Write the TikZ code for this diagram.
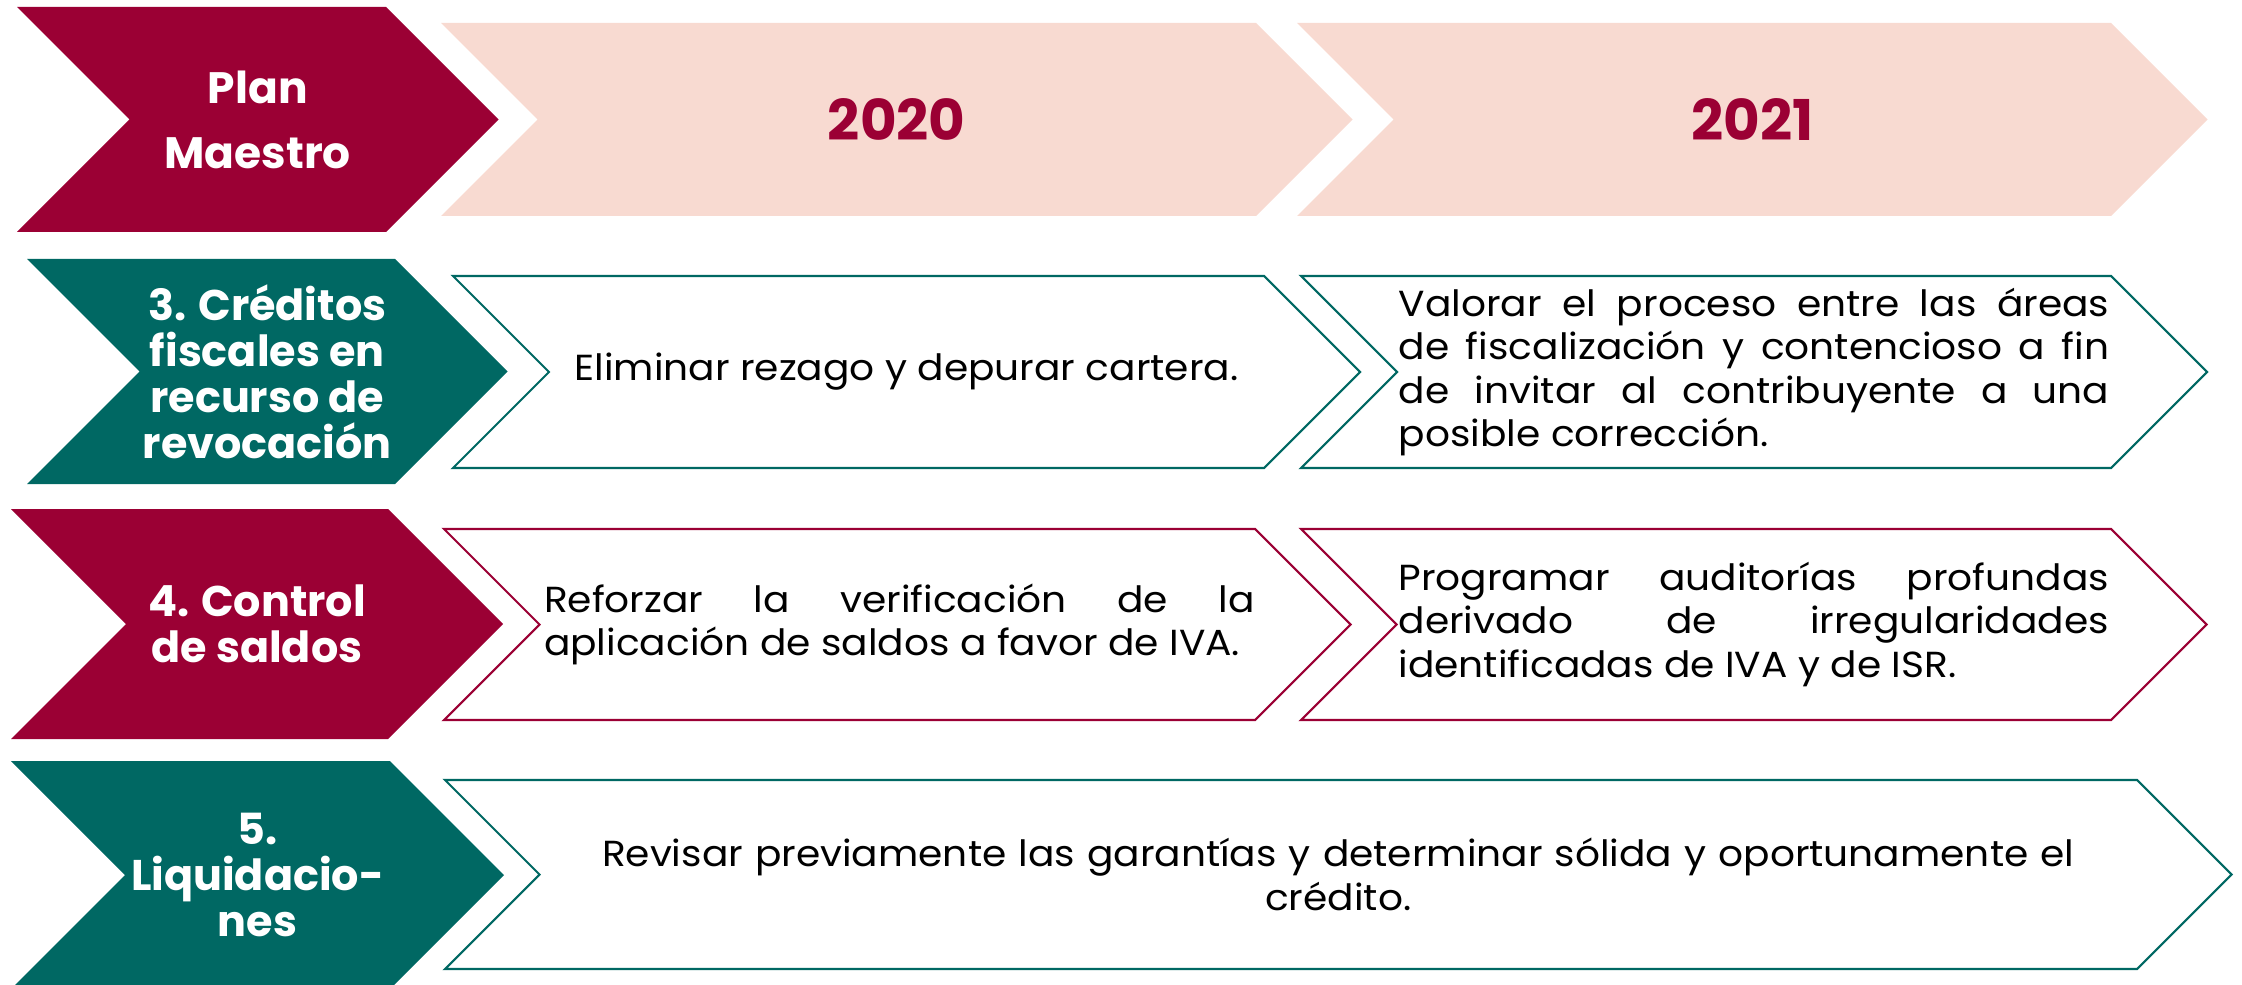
\documentclass[tikz,border=0pt]{standalone}
\usepackage{fontspec}
\setmainfont{Poppins}
\newfontfamily\bodyfont[FakeStretch=1.08]{Poppins}
\usetikzlibrary{positioning}

\definecolor{guinda}{RGB}{155,0,52}
\definecolor{verde}{RGB}{0,104,99}
\definecolor{rosa}{RGB}{248,218,209}

% chevron: #1 style, #2 name, #3 left x, #4 top right x, #5 top y, #6 bottom y
\newcommand{\chevpath}[6]{%
  \pgfmathsetmacro{\chd}{(#6-#5)/2}%
  \path[#1] (#3,#5) -- (#4,#5) -- ++(\chd,\chd) -- (#4,#6) -- (#3,#6) -- ++(\chd,-\chd) -- cycle;
  \coordinate (#2) at ({(#3+\chd+#4)/2},{(#5+#6)/2});
}

\tikzset{
  solid/.style={fill=#1},
  outl/.style={draw=#1, line width=0.6pt, fill=white},
  hdrtxt/.style={text=white, font=\bfseries\fontsize{12.2}{13.1}\selectfont, align=center, inner sep=0pt},
  yeartxt/.style={text=guinda, font=\bfseries\fontsize{16}{18}\selectfont, inner sep=0pt},
  bodytxt/.style={text=black, font=\bodyfont\fontsize{10.3}{12.4}\selectfont, align=justify, inner sep=0pt}
}

\begin{document}
\begin{tikzpicture}[x=0.01cm, y=-0.01cm]
\useasboundingbox (0,0) rectangle (2242,985);

% top row
\chevpath{solid=guinda}{plan}{17}{386}{7}{232}
\chevpath{solid=rosa}{y2020}{441}{1256}{23}{216}
\chevpath{solid=rosa}{y2021}{1297}{2111}{23}{216}
\node[hdrtxt, font=\bfseries\fontsize{12.5}{18.5}\selectfont] (plan-txt) at (plan) {Plan\\Maestro};
\node[yeartxt] (y2020-txt) at (y2020) {2020};
\node[yeartxt] (y2021-txt) at (y2021) {2021};

% 3. creditos
\chevpath{solid=verde}{cred}{27}{395}{259}{484}
\chevpath{outl=verde}{cred20}{453}{1264}{276}{468}
\chevpath{outl=verde}{cred21}{1301}{2111}{276}{468}
\node[hdrtxt] (cred-txt) at (cred) {3. Créditos\\fiscales en\\recurso de\\revocación};
\node[bodytxt, align=center] (cred20-txt) at (cred20) {Eliminar rezago y depurar cartera.};
\node[bodytxt, text width=7.1cm] (cred21-txt) at (cred21)
  {Valorar el proceso entre las áreas\linebreak de fiscalización y contencioso a fin\linebreak de invitar al contribuyente a una\linebreak posible corrección.};

% 4. control
\chevpath{solid=guinda}{ctrl}{11}{388}{509}{739}
\chevpath{outl=guinda}{ctrl20}{444}{1255}{529}{720}
\chevpath{outl=guinda}{ctrl21}{1301}{2111}{529}{720}
\node[hdrtxt] (ctrl-txt) at (ctrl) {4. Control\\de saldos};
\node[bodytxt, text width=7.1cm, xshift=0.02cm] (ctrl20-txt) at (ctrl20)
  {Reforzar la verificación de la\linebreak \mbox{aplicación de saldos a favor de IVA.}};
\node[bodytxt, text width=7.1cm] (ctrl21-txt) at (ctrl21)
  {Programar auditorías profundas\linebreak derivado de irregularidades\linebreak identificadas de IVA y de ISR.};

% 5. liquidaciones
\chevpath{solid=verde}{liq}{11}{390}{761}{989}
\chevpath{outl=verde}{liq2}{445}{2137}{780}{969}
\node[hdrtxt] (liq-txt) at (liq) {5.\\Liquidacio-\\nes};
\node[bodytxt, align=center, text width=15.2cm] (liq2-txt) at (liq2)
  {Revisar previamente las garantías y determinar sólida y oportunamente el\\crédito.};
\end{tikzpicture}
\end{document}
